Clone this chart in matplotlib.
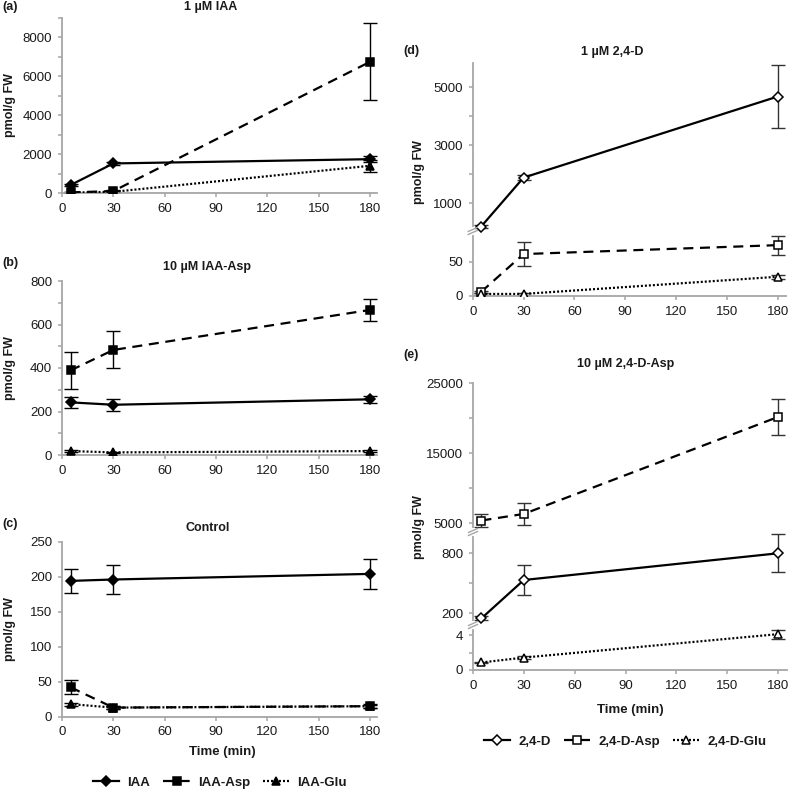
import numpy as np
import matplotlib
matplotlib.use('Agg')
import matplotlib.pyplot as plt

plt.rcParams['font.family'] = ['Liberation Sans', 'DejaVu Sans']

# ---------------- data ----------------
time_min = [5, 30, 180]
x_ticks = [0, 30, 60, 90, 120, 150, 180]

iaa_labels = ['IAA', 'IAA-Asp', 'IAA-Glu']
d_labels = ['2,4-D', '2,4-D-Asp', '2,4-D-Glu']

# (a) 1 µM IAA
a_iaa = [410, 1520, 1740]
a_iaa_err = [50, 80, 160]
a_asp = [30, 100, 6750]
a_asp_err = [20, 40, 1970]
a_glu = [20, 60, 1400]
a_glu_err = [10, 20, 300]

# (b) 10 µM IAA-Asp
b_iaa = [242, 231, 256]
b_iaa_err = [25, 28, 15]
b_asp = [389, 483, 667]
b_asp_err = [85, 85, 50]
b_glu = [18, 12, 18]
b_glu_err = [3, 3, 3]

# (c) Control
c_iaa = [194, 196, 204]
c_iaa_err = [17, 21, 21]
c_asp = [42, 13, 15]
c_asp_err = [10, 2, 3]
c_glu = [18, 13, 15]
c_glu_err = [2, 2, 2]

# (d) 1 µM 2,4-D
d_d = [232, 1878, 4681]
d_d_err = [40, 80, 1080]
d_asp = [6, 61, 74]
d_asp_err = [2, 17, 14]
d_glu = [3, 3, 28]
d_glu_err = [1, 1, 3]

# (e) 10 µM 2,4-D-Asp
e_d = [150, 533, 800]
e_d_err = [20, 150, 190]
e_asp = [5400, 6340, 20190]
e_asp_err = [900, 1600, 2600]
e_glu = [0.86, 1.42, 4.1]
e_glu_err = [0.1, 0.15, 0.5]

# ---------------- figure ----------------
W, H = 790, 789
fig = plt.figure(figsize=(W / 100, H / 100), dpi=100)

GREY = '#a6a6a6'
TXT = '#1a1a1a'
FS = 9.5


def add_ax(l, t, r, b):
    return fig.add_axes([l / W, 1 - b / H, (r - l) / W, (b - t) / H])


def style(ax, xmax):
    for s in ['top', 'right']:
        ax.spines[s].set_visible(False)
    for s in ['left', 'bottom']:
        ax.spines[s].set_color(GREY)
        ax.spines[s].set_linewidth(1.3)
    ax.tick_params(which='both', direction='out', length=3, width=1.1,
                   color=GREY, labelsize=FS, labelcolor=TXT, pad=4)
    ax.set_xlim(0, xmax)
    ax.set_xticks(x_ticks)
    ax.set_xticklabels([str(v) for v in x_ticks])


SOLID = dict(linestyle='-')
DASH = dict(linestyle=(0, (4.5, 3)))
DOT = dict(linestyle=(0, (0.9, 0.9)))


def series(ax, y, err, marker, ls, face, ms, ecolor='black'):
    ax.errorbar(time_min, y, yerr=err, fmt='none', ecolor=ecolor,
                elinewidth=1, capsize=5, capthick=1, zorder=2)
    line, = ax.plot(time_min, y, color='black', lw=1.6, marker=marker,
                    ms=ms, mfc=face, mec='black', mew=1.1, zorder=3, **ls)
    return line


def broken_scale(ax, vals, units):
    vals = np.asarray(vals, float)
    units = np.asarray(units, float)

    def fwd(y):
        return np.interp(y, vals, units)

    def inv(u):
        return np.interp(u, units, vals)
    ax.set_yscale('function', functions=(fwd, inv))
    ax.set_ylim(vals[0], vals[-1])


def draw_break(ax, ufrac, wpx, hpx):
    dx = 4.5 / wpx
    dy = 2.0 / hpx
    gap = 3.0 / hpx
    ax.plot([0, 0], [ufrac - gap * 0.7, ufrac + gap * 0.7], transform=ax.transAxes,
            color='white', lw=3, clip_on=False, zorder=5)
    for off in (-gap / 2, gap / 2):
        ax.plot([-dx, dx], [ufrac + off - dy, ufrac + off + dy],
                transform=ax.transAxes, color=GREY, lw=1.0,
                clip_on=False, zorder=6)


def ftext(x, y, s, **kw):
    fig.text(x / W, 1 - y / H, s, **kw)


BOLD = dict(fontweight='bold', color=TXT)

# ----- (a) -----
axa = add_ax(62, 18, 377, 193)
style(axa, 184)
series(axa, a_iaa, a_iaa_err, 'D', SOLID, 'black', 5)
series(axa, a_asp, a_asp_err, 's', DASH, 'black', 5.5)
series(axa, a_glu, a_glu_err, '^', DOT, 'black', 5.5)
axa.set_ylim(0, 9000)
axa.set_yticks([0, 2000, 4000, 6000, 8000])
axa.set_yticks([1000, 3000, 5000, 7000, 9000], minor=True)

# ----- (b) -----
axb = add_ax(62, 281, 377, 455)
style(axb, 184)
series(axb, b_iaa, b_iaa_err, 'D', SOLID, 'black', 5)
series(axb, b_asp, b_asp_err, 's', DASH, 'black', 5.5)
series(axb, b_glu, b_glu_err, '^', DOT, 'black', 5.5)
axb.set_ylim(0, 800)
axb.set_yticks([0, 200, 400, 600, 800])
axb.set_yticks([100, 300, 500, 700], minor=True)

# ----- (c) -----
axc = add_ax(62, 541.7, 377, 716.7)
style(axc, 184)
l1 = series(axc, c_iaa, c_iaa_err, 'D', SOLID, 'black', 5)
l2 = series(axc, c_asp, c_asp_err, 's', DASH, 'black', 5.5)
l3 = series(axc, c_glu, c_glu_err, '^', DOT, 'black', 5.5)
axc.set_ylim(0, 250)
axc.set_yticks([0, 50, 100, 150, 200, 250])

# ----- (d) -----
d_box = (472.7, 63.3, 786.2, 296)
axd = add_ax(*d_box)
style(axd, 185)
broken_scale(axd, [0, 95, 1000, 5830], [0, 65.3, 93, 232.7])
series(axd, d_d, d_d_err, 'D', SOLID, 'white', 5.5, '#333333')
series(axd, d_asp, d_asp_err, 's', DASH, 'white', 6, '#333333')
series(axd, d_glu, d_glu_err, '^', DOT, 'white', 5.5, '#333333')
d_major = [0, 50, 1000, 3000, 5000]
axd.set_yticks(d_major)
axd.set_yticklabels([str(v) for v in d_major])
axd.set_yticks([2000, 4000], minor=True)
axd.yaxis.set_minor_formatter(plt.NullFormatter())
draw_break(axd, 65.0 / 232.7, d_box[2] - d_box[0], d_box[3] - d_box[1])

# ----- (e) -----
e_box = (473, 383.3, 786.5, 670)
axe = add_ax(*e_box)
style(axe, 185)
broken_scale(axe, [0, 5.1, 90, 1010, 3800, 25000],
             [0, 44.6, 45.7, 137.7, 138.3, 286.7])
l4 = series(axe, e_d, e_d_err, 'D', SOLID, 'white', 5.5, '#333333')
l5 = series(axe, e_asp, e_asp_err, 's', DASH, 'white', 6, '#333333')
l6 = series(axe, e_glu, e_glu_err, '^', DOT, 'white', 5.5, '#333333')
e_major = [0, 4, 200, 800, 5000, 15000, 25000]
axe.set_yticks(e_major)
axe.set_yticklabels([str(v) for v in e_major])
axe.set_yticks([2, 500, 10000, 20000], minor=True)
axe.yaxis.set_minor_formatter(plt.NullFormatter())
hpx_e = e_box[3] - e_box[1]
wpx_e = e_box[2] - e_box[0]
draw_break(axe, 45.0 / hpx_e, wpx_e, hpx_e)
draw_break(axe, 138.0 / hpx_e, wpx_e, hpx_e)

# ----- texts -----
ftext(211, 7, '1 µM IAA', ha='center', va='center', fontsize=9, **BOLD)
ftext(207, 267, '10 µM IAA-Asp', ha='center', va='center', fontsize=9, **BOLD)
ftext(208, 527.7, 'Control', ha='center', va='center', fontsize=9, **BOLD)
ftext(612, 51.7, '1 µM 2,4-D', ha='center', va='center', fontsize=9, **BOLD)
ftext(626, 364, '10 µM 2,4-D-Asp', ha='center', va='center', fontsize=9, **BOLD)

ftext(2, 7, '(a)', ha='left', va='center', fontsize=9, **BOLD)
ftext(2, 263, '(b)', ha='left', va='center', fontsize=9, **BOLD)
ftext(2, 524.3, '(c)', ha='left', va='center', fontsize=9, **BOLD)
ftext(403, 51, '(d)', ha='left', va='center', fontsize=9, **BOLD)
ftext(403, 355, '(e)', ha='left', va='center', fontsize=9, **BOLD)

for yc in [(18 + 193) / 2, (281 + 455) / 2, (541.7 + 716.7) / 2]:
    ftext(10, yc, 'pmol/g FW', ha='center', va='center', rotation=90,
          fontsize=9, **BOLD)
ftext(419, 172, 'pmol/g FW', ha='center', va='center', rotation=90,
      fontsize=9, **BOLD)
ftext(419, 527, 'pmol/g FW', ha='center', va='center', rotation=90,
      fontsize=9, **BOLD)

ftext(222, 751.7, 'Time (min)', ha='center', va='center', fontsize=9.5, **BOLD)
ftext(630, 710, 'Time (min)', ha='center', va='center', fontsize=9.5, **BOLD)

leg_kw = dict(loc='center', ncol=3, frameon=False, handlelength=2.0,
              handletextpad=0.6, columnspacing=1.0, borderaxespad=0,
              prop={'weight': 'bold', 'size': 9.5})
leg1 = fig.legend([l1, l2, l3], iaa_labels,
                  bbox_to_anchor=(220 / W, 1 - 782.7 / H), **leg_kw)
leg2 = fig.legend([l4, l5, l6], d_labels,
                  bbox_to_anchor=(625 / W, 1 - 741.7 / H), **leg_kw)
for lg in (leg1, leg2):
    for t in lg.get_texts():
        t.set_color(TXT)

fig.savefig('out.png', dpi=100)
